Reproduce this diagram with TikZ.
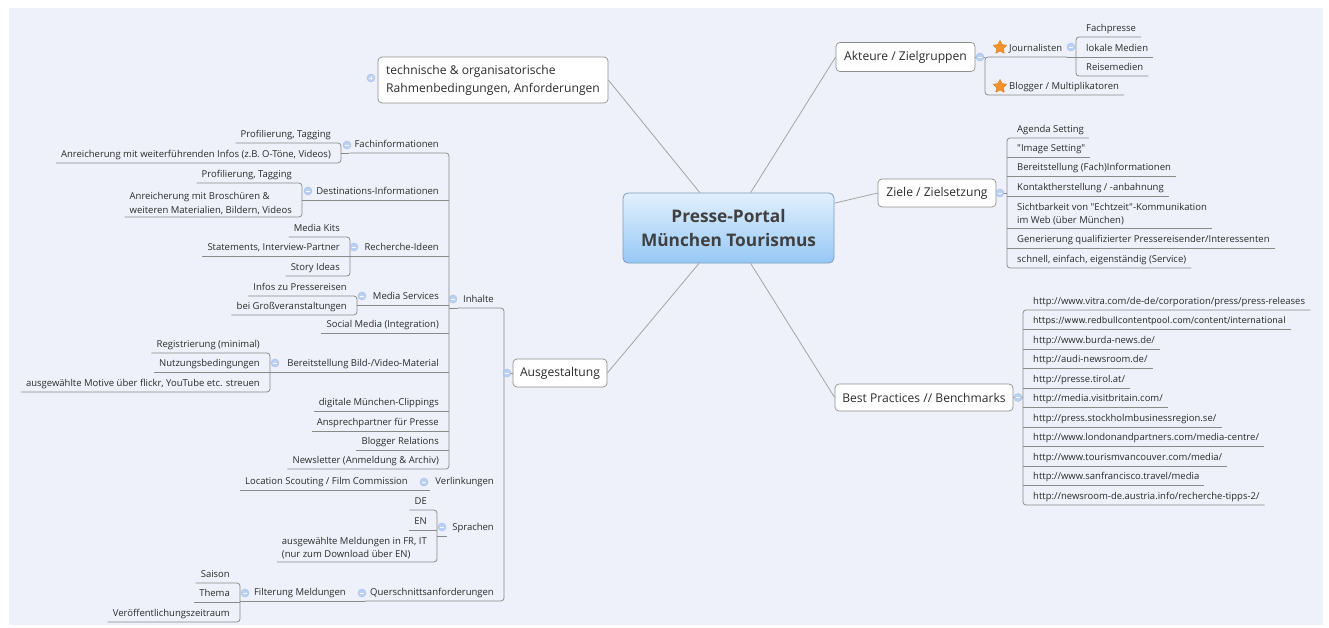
\documentclass[tikz,border=0pt]{standalone}
\usepackage{fontspec}
\newfontfamily\osf{Open Sans}
\newfontfamily\djv{DejaVu Sans}
\usetikzlibrary{shapes.geometric,calc}
\definecolor{bg}{HTML}{EEF1F9}
\definecolor{txt}{HTML}{2B2B2B}
\definecolor{ulc}{HTML}{8A8A8A}
\definecolor{connc}{HTML}{A4A4A4}
\definecolor{boxline}{HTML}{8E8E8E}
\definecolor{mkfill}{HTML}{BCD1F2}
\definecolor{mkline}{HTML}{A3BCE6}
\definecolor{rootA}{HTML}{E2F0FD}
\definecolor{rootB}{HTML}{96C8F5}
\definecolor{rootline}{HTML}{7E9CBE}
\definecolor{staro}{HTML}{F5922A}
\tikzset{
 leaf/.style={font=\osf\fontsize{9.5}{12.5}\selectfont, text=txt, inner xsep=5pt, inner ysep=2.5pt, text height=7.5pt, text depth=3pt},
 mleaf/.style={font=\osf\fontsize{9.5}{13.5}\selectfont, text=txt, inner xsep=5pt, inner ysep=2.5pt, align=left},
 ul/.style={draw=ulc, line width=0.75pt},
 topic/.style={draw=boxline, fill=white, rounded corners=4pt, font=\osf\fontsize{12.1}{18}\selectfont, text=txt, line width=0.7pt, inner sep=0pt},
 connl/.style={draw=connc, line width=0.8pt},
 mkr/.style={circle, fill=mkfill, draw=mkline, line width=0.4pt, minimum size=8pt, inner sep=0pt,
   path picture={\draw[white!85!mkfill, line width=0.7pt] ([xshift=-2.2pt]path picture bounding box.center) -- ([xshift=2.2pt]path picture bounding box.center);}},
 mkrplus/.style={circle, fill=mkfill, draw=mkline, line width=0.4pt, minimum size=8pt, inner sep=0pt,
   path picture={\draw[white!85!mkfill, line width=0.7pt] ([xshift=-2.2pt]path picture bounding box.center) -- ([xshift=2.2pt]path picture bounding box.center) ([yshift=-2.2pt]path picture bounding box.center) -- ([yshift=2.2pt]path picture bounding box.center);}},
 starico/.style={star, star points=5, star point ratio=2.1, minimum size=15pt, inner sep=0pt, fill=staro, draw=staro!85!black, line width=0.3pt, rounded corners=0.6pt}
}
\newcommand\mmRN[4]{\node[leaf,anchor=south west] (#1) at ({#2+5},#3) {#4};}
\newcommand\mmRL[4]{\mmRN{#1}{#2}{#3}{#4}\draw[ul] ([xshift=-5pt]#1.south west) -- (#1.south east);}
\newcommand\mmLN[4]{\node[leaf,anchor=south east] (#1) at ({#2-5},#3) {#4};}
\newcommand\mmLL[4]{\mmLN{#1}{#2}{#3}{#4}\draw[ul] ([xshift=5pt]#1.south east) -- (#1.south west);}
\newcommand\mmRS[2]{\draw[ul,rounded corners=3pt] (#1.south east) -- ([xshift=-5pt]#1.south west) -- ([xshift=-5pt]#2.south west) -- (#2.south east);}
\newcommand\mmLS[2]{\draw[ul,rounded corners=3pt] (#1.south west) -- ([xshift=5pt]#1.south east) -- ([xshift=5pt]#2.south east) -- (#2.south west);}
\begin{document}
\begin{tikzpicture}[x=1pt,y=-1pt]
\useasboundingbox (0,0) rectangle (1329,628);
\fill[white] (0,0) rectangle (1329,628);
\fill[bg] (9,8) rectangle (1323,625);

% ---- central topic and main topics
\node[draw=rootline, rounded corners=5pt, top color=rootA, bottom color=rootB, minimum width=211pt, minimum height=70pt, align=center, font=\osf\bfseries\fontsize{17.3}{24}\selectfont, text=txt!90!white, line width=0.8pt] (root) at (728.5,228) {Presse-Portal\\München Tourismus};
\node[topic, minimum width=230pt, minimum height=46pt, align=left] (tech) at (493,80) {technische \& organisatorische\\Rahmenbedingungen, Anforderungen};
\node[topic, minimum width=139pt, minimum height=29pt] (akt) at (905.5,57) {Akteure / Zielgruppen};
\node[topic, minimum width=118pt, minimum height=28pt] (ziele) at (937,193) {Ziele / Zielsetzung};
\node[topic, minimum width=178pt, minimum height=27pt] (best) at (924,397.5) {Best Practices // Benchmarks};
\node[topic, minimum width=94pt, minimum height=28pt] (ausg) at (560,373) {Ausgestaltung};

\draw[connl] (root) -- (tech.east);
\draw[connl] (root) -- (akt.west);
\draw[connl] (root) -- (ziele.west);
\draw[connl] (root) -- (best.west);
\draw[connl] (root) -- (ausg.east);

% ---- Akteure / Zielgruppen
\mmRN{jour}{985}{57}{\hspace*{14pt}Journalisten}
\mmRN{blog}{985}{95}{\hspace*{14pt}Blogger / Multiplikatoren}
\mmRS{jour}{blog}
\coordinate (aktsp) at (985,57);
\draw[ul] (akt.east) -- (aktsp);
\coordinate (joursp) at (1076,57);
\draw[ul] (jour.south east) -- (joursp);
\mmRN{fp}{1076}{37}{Fachpresse}
\mmRL{lm}{1076}{57}{lokale Medien}
\mmRN{rm}{1076}{76}{Reisemedien}
\mmRS{fp}{rm}
\node[starico] (s1) at (1000,47.5) {};
\node[starico] (s2) at (1000,86.5) {};

% ---- Ziele / Zielsetzung
\mmRN{z1}{1007}{138}{Agenda Setting}
\mmRL{z2}{1007}{157}{"Image Setting"}
\mmRL{z3}{1007}{176}{Bereitstellung (Fach)Informationen}
\mmRL{z4}{1007}{196}{Kontaktherstellung / -anbahnung}
\node[mleaf,anchor=south west] (z5) at (1012,228) {Sichtbarkeit von "Echtzeit"-Kommunikation\\im Web (über München)};
\draw[ul] ([xshift=-5pt]z5.south west) -- (z5.south east);
\mmRL{z6}{1007}{248}{Generierung qualifizierter Pressereisender/Interessenten}
\mmRN{z7}{1007}{268}{schnell, einfach, eigenständig (Service)}
\mmRS{z1}{z7}
\coordinate (zsp) at (1007,193);
\draw[ul] (ziele.east) -- (zsp);

% ---- Best Practices
\mmRN{b1}{1023}{310}{http://www.vitra.com/de-de/corporation/press/press-releases}
\node[leaf, font=\djv\fontsize{8.7}{12}\selectfont, anchor=south west] (b2) at (1028,329) {https://www.redbullcontentpool.com/content/international};
\draw[ul] ([xshift=-5pt]b2.south west) -- (b2.south east);
\mmRL{b3}{1023}{349}{http://www.burda-news.de/}
\mmRL{b4}{1023}{368}{http://audi-newsroom.de/}
\mmRL{b5}{1023}{388}{http://presse.tirol.at/}
\mmRL{b6}{1023}{407}{http://media.visitbritain.com/}
\mmRL{b7}{1023}{427}{http://press.stockholmbusinessregion.se/}
\mmRL{b8}{1023}{446}{http://www.londonandpartners.com/media-centre/}
\mmRL{b9}{1023}{466}{http://www.tourismvancouver.com/media/}
\mmRL{b10}{1023}{485}{http://www.sanfrancisco.travel/media}
\mmRN{b11}{1023}{505}{http://newsroom-de.austria.info/recherche-tipps-2/}
\mmRS{b1}{b11}
\coordinate (bsp) at (1023,397.5);
\draw[ul] (best.east) -- (bsp);

% ---- Ausgestaltung
\mmLN{inh}{504}{308}{Inhalte}
\mmLN{verl}{504}{490}{Verlinkungen}
\mmLN{spr}{504}{536}{Sprachen}
\mmLN{quer}{504}{601}{Querschnittsanforderungen}
\mmLS{inh}{quer}
\coordinate (ausp) at (504,373);
\draw[ul] (ausg.west) -- (ausp);
\coordinate (inhsp) at (449,308);
\draw[ul] (inh.south west) -- (inhsp);

% Inhalte children
\mmLN{fach}{449}{153}{Fachinformationen}
\mmLL{dest}{449}{200}{Destinations-Informationen}
\mmLL{rech}{449}{256}{Recherche-Ideen}
\mmLL{medi}{449}{305}{Media Services}
\mmLL{soci}{449}{333}{Social Media (Integration)}
\mmLL{bere}{449}{372}{Bereitstellung Bild-/Video-Material}
\mmLL{digi}{449}{411}{digitale München-Clippings}
\mmLL{ansp}{449}{431}{Ansprechpartner für Presse}
\mmLL{blrel}{449}{450}{Blogger Relations}
\mmLN{news}{449}{469}{Newsletter (Anmeldung \& Archiv)}
\mmLS{fach}{news}

\coordinate (fachsp) at (341,153);
\draw[ul] (fach.south west) -- (fachsp);
\mmLN{f1}{341}{143}{Profilierung, Tagging}
\mmLN{f2}{341}{163}{Anreicherung mit weiterführenden Infos (z.B. O-Töne, Videos)}
\mmLS{f1}{f2}

\coordinate (destsp) at (302,200);
\draw[ul] (dest.south west) -- (destsp);
\mmLN{d1}{302}{183}{Profilierung, Tagging}
\node[mleaf,anchor=south east] (d2) at (297,217) {Anreicherung mit Broschüren \&\\weiteren Materialien, Bildern, Videos};
\mmLS{d1}{d2}

\coordinate (rechsp) at (350,256);
\draw[ul] (rech.south west) -- (rechsp);
\mmLN{r1}{350}{237}{Media Kits}
\mmLL{r2}{350}{256}{Statements, Interview-Partner}
\mmLN{r3}{350}{276}{Story Ideas}
\mmLS{r1}{r3}

\coordinate (medisp) at (357,305);
\draw[ul] (medi.south west) -- (medisp);
\mmLN{m1}{357}{296}{Infos zu Pressereisen}
\mmLN{m2}{357}{315}{bei Großveranstaltungen}
\mmLS{m1}{m2}

\coordinate (beresp) at (270,372);
\draw[ul] (bere.south west) -- (beresp);
\mmLN{e1}{270}{353}{Registrierung (minimal)}
\mmLL{e2}{270}{372}{Nutzungsbedingungen}
\mmLN{e3}{270}{392}{ausgewählte Motive über flickr, YouTube etc. streuen}
\mmLS{e1}{e3}

% Verlinkungen
\mmLN{loc}{418}{490}{Location Scouting / Film Commission}
\draw[ul] (verl.south west) -- (loc.south west);

% Sprachen
\coordinate (sprsp) at (437,536);
\draw[ul] (spr.south west) -- (sprsp);
\mmLN{s1}{437}{510}{DE}
\mmLL{s2}{437}{530}{EN}
\node[mleaf,anchor=south east] (s3) at (432,562) {ausgewählte Meldungen in FR, IT\\(nur zum Download über EN)};
\mmLS{s1}{s3}

% Querschnittsanforderungen
\mmLN{filt}{356}{601}{Filterung Meldungen}
\coordinate (filtsp) at (240,601);
\draw[ul] (quer.south west) -- (filtsp);
\mmLN{t1}{240}{583}{Saison}
\mmLL{t2}{240}{602}{Thema}
\mmLN{t3}{240}{622}{Veröffentlichungszeitraum}
\mmLS{t1}{t3}

% ---- collapse markers
\node[mkrplus] (k0) at (371,78) {};
\node[mkr] (k1) at (980,57) {};
\node[mkr] (k2) at (1071,47) {};
\node[mkr] (k3) at (1000,193) {};
\node[mkr] (k4) at (1018,397.5) {};
\node[mkr] (k5) at (507,373) {};
\node[mkr] (k6) at (453,299) {};
\node[mkr] (k7) at (347,145) {};
\node[mkr] (k8) at (308,191) {};
\node[mkr] (k9) at (354,247) {};
\node[mkr] (k10) at (362,296) {};
\node[mkr] (k11) at (275,363) {};
\node[mkr] (k12) at (424,482) {};
\node[mkr] (k13) at (442,527) {};
\node[mkr] (k14) at (362,593) {};
\node[mkr] (k15) at (245,593) {};
\end{tikzpicture}
\end{document}
